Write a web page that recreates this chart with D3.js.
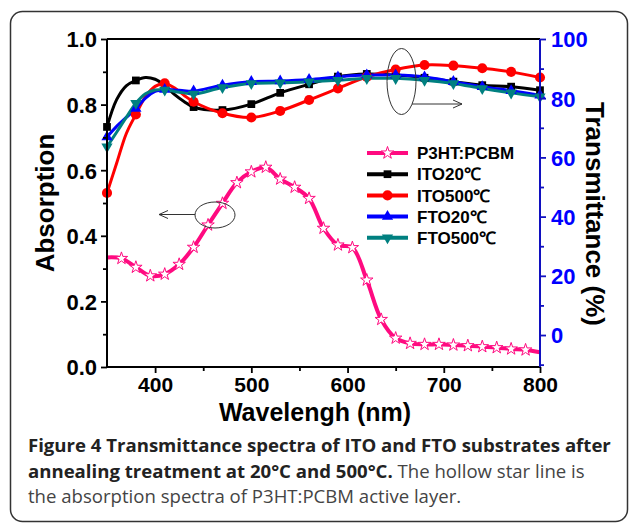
<!DOCTYPE html>
<html><head><meta charset="utf-8">
<script src="https://cdn.jsdelivr.net/npm/d3@7"></script>
<style>
html,body{margin:0;padding:0;background:#fff;}
svg{display:block;}
</style>
</head><body>
<svg id="c" width="629" height="523"></svg>
<script>
// ---- data ----
const lambdaT = [350,360,370,380,390,400,410,420,430,440,470,500,530,560,590,620,650,680,710,740,770,800];
const ito20   = [70.3,79.5,84.2,86.0,87.0,86.4,84.3,81.3,78.9,77.0,76.0,78.0,81.8,84.7,87.3,88.2,87.8,86.9,85.6,84.4,83.9,82.7];
const ito500  = [48.0,58.0,68.0,74.5,80.5,84.0,85.0,83.5,81.0,78.8,74.9,73.5,75.7,79.4,83.3,87.2,89.7,91.2,91.0,90.1,88.9,87.0];
const fto20   = [66.9,70.5,73.5,76.5,80.0,82.3,82.9,82.8,82.5,82.4,84.4,85.6,85.8,86.3,87.2,87.8,87.8,87.2,85.6,83.9,82.5,81.0];
const fto500  = [63.6,68.5,73.5,78.3,81.5,82.8,82.8,82.3,81.8,81.4,83.6,85.0,85.2,85.6,86.1,86.7,86.7,86.1,85.0,83.3,81.8,80.5];
const lambdaA = [350,365,380,395,410,425,440,455,470,485,500,515,530,545,560,575,590,605,620,635,650,665,680,695,710,725,740,755,770,785,800];
const p3ht    = [0.334,0.331,0.304,0.278,0.283,0.313,0.365,0.433,0.499,0.562,0.595,0.609,0.573,0.548,0.514,0.423,0.372,0.364,0.265,0.145,0.088,0.072,0.069,0.069,0.067,0.065,0.062,0.059,0.055,0.052,0.045];
const xTicks  = [400,500,600,700,800];
const xMinor  = [450,550,650,750];
const yLTicks = [0,0.2,0.4,0.6,0.8,1.0];
const yLMinor = [0.1,0.3,0.5,0.7,0.9];
const yRTicks = [0,20,40,60,80,100];
const yRMinor = [-10,10,30,50,70,90];
const legendNames = ["P3HT:PCBM","ITO20℃","ITO500℃","FTO20℃","FTO500℃"];

// ---- layout ----
const svg = d3.select("#c");
const L=107, R=540, T=39, B=367;
const x  = d3.scaleLinear([350,800],[L,R]);
const yL = d3.scaleLinear([0,1],[B,T]);
const yR = d3.scaleLinear([-10.8,100],[B,T]);
const FONT = "'Liberation Sans', Arial, sans-serif";

// outer rounded panel
svg.append("rect").attr("x",10.5).attr("y",11.5).attr("width",617).attr("height",510)
  .attr("rx",12).attr("fill","none").attr("stroke","#333").attr("stroke-width",1.5);

const series = [
  {name:legendNames[1], vals:ito20,  color:"#000000", sym:d3.symbolSquare,   size:60, rot:0},
  {name:legendNames[2], vals:ito500, color:"#ff0000", sym:d3.symbolCircle,   size:80, rot:0},
  {name:legendNames[3], vals:fto20,  color:"#0000ff", sym:d3.symbolTriangle, size:55, rot:0},
  {name:legendNames[4], vals:fto500, color:"#008080", sym:d3.symbolTriangle, size:55, rot:180},
];

const clip = svg.append("clipPath").attr("id","pc").append("rect")
  .attr("x",L-8).attr("y",T-8).attr("width",R-L+16).attr("height",B-T+16);
const plot = svg.append("g").attr("clip-path","url(#pc)");

const lineT = d3.line().x((d,i)=>x(lambdaT[i])).y(d=>yR(d)).curve(d3.curveCatmullRom.alpha(0.5));
series.forEach(s=>{
  plot.append("path").attr("d",lineT(s.vals)).attr("fill","none")
    .attr("stroke",s.color).attr("stroke-width",3);
});
series.forEach(s=>{
  const sym = d3.symbol().type(s.sym).size(s.size);
  plot.selectAll(null).data(s.vals.map((v,i)=>[lambdaT[i],v]).filter(d=>(d[0]-350)%30===0))
    .join("path").attr("d",sym)
    .attr("transform",d=>`translate(${x(d[0])},${yR(d[1])}) rotate(${s.rot})`)
    .attr("fill",s.color);
});

// P3HT absorption
const lineA = d3.line().x((d,i)=>x(lambdaA[i])).y(d=>yL(d)).curve(d3.curveCatmullRom.alpha(0.5));
plot.append("path").attr("d",lineA(p3ht)).attr("fill","none")
  .attr("stroke","#ff0a80").attr("stroke-width",4);
const star = d3.symbol().type(d3.symbolStar).size(48);
plot.selectAll(null).data(p3ht.map((v,i)=>[lambdaA[i],v]).filter(d=>d[0]>350&&d[0]<800))
  .join("path").attr("d",star)
  .attr("transform",d=>`translate(${x(d[0])},${yL(d[1])})`)
  .attr("fill","#fff").attr("stroke","#ff0a80").attr("stroke-width",1);

// ---- axes ----
function styleAxis(g,color,fs){
  g.select(".domain").remove();
  g.selectAll("line").attr("stroke",color).attr("stroke-width",1.8);
  g.selectAll("text").attr("fill",color).attr("font-family",FONT).attr("font-weight","bold").attr("font-size",fs);
}
// bottom
const gx = svg.append("g").attr("transform",`translate(0,${B})`)
  .call(d3.axisBottom(x).tickValues(xTicks).tickFormat(d3.format("d")).tickSize(6).tickPadding(4));
styleAxis(gx,"#000",21);
svg.append("g").attr("transform",`translate(0,${B})`)
  .call(d3.axisBottom(x).tickValues(xMinor).tickFormat("").tickSize(4)).call(g=>styleAxis(g,"#000",21));
// left
const gl = svg.append("g").attr("transform",`translate(${L},0)`)
  .call(d3.axisLeft(yL).tickValues(yLTicks).tickFormat(d3.format(".1f")).tickSize(6).tickPadding(4));
styleAxis(gl,"#000",22);
gl.selectAll("text").attr("dy","0.36em");
svg.append("g").attr("transform",`translate(${L},0)`)
  .call(d3.axisLeft(yL).tickValues(yLMinor).tickFormat("").tickSize(4)).call(g=>styleAxis(g,"#000",22));
// right
const gr = svg.append("g").attr("transform",`translate(${R},0)`)
  .call(d3.axisRight(yR).tickValues(yRTicks).tickFormat(d3.format("d")).tickSize(6).tickPadding(5));
styleAxis(gr,"#0000ff",22);
gr.selectAll("line").attr("stroke","#1010c0");
gr.selectAll("text").attr("dy","0.36em");
svg.append("g").attr("transform",`translate(${R},0)`)
  .call(d3.axisRight(yR).tickValues(yRMinor).tickFormat("").tickSize(4)).call(g=>styleAxis(g,"#1010c0",22));

// frame lines
svg.append("line").attr("x1",L).attr("x2",R).attr("y1",T).attr("y2",T).attr("stroke","#000").attr("stroke-width",2);
svg.append("line").attr("x1",L).attr("x2",R).attr("y1",B).attr("y2",B).attr("stroke","#000").attr("stroke-width",2);
svg.append("line").attr("x1",L).attr("x2",L).attr("y1",T).attr("y2",B).attr("stroke","#000").attr("stroke-width",2);
svg.append("line").attr("x1",R).attr("x2",R).attr("y1",T).attr("y2",B).attr("stroke","#1010c0").attr("stroke-width",2);

// axis titles
svg.append("text").attr("transform",`translate(45,${(T+B)/2}) rotate(-90)`)
  .attr("text-anchor","middle").attr("dy","0.35em")
  .attr("font-family",FONT).attr("font-weight","bold").attr("font-size",26).text("Absorption");
svg.append("text").attr("transform",`translate(595,${(T+B)/2+11}) rotate(90)`)
  .attr("text-anchor","middle").attr("dy","0.35em")
  .attr("font-family",FONT).attr("font-weight","bold").attr("font-size",26).text("Transmittance (%)");
svg.append("text").attr("x",315).attr("y",421).attr("text-anchor","middle")
  .attr("font-family",FONT).attr("font-weight","bold").attr("font-size",25).text("Wavelengh (nm)");

// ---- legend ----
const legItems = [
  {name:legendNames[0], color:"#ff0a80", sym:d3.symbolStar, size:48, rot:0, hollow:true},
  ...series
];
const lg = svg.append("g");
legItems.forEach((s,i)=>{
  const cy = 153 + i*21.2;
  lg.append("line").attr("x1",367).attr("x2",408).attr("y1",cy).attr("y2",cy)
    .attr("stroke",s.color).attr("stroke-width",4);
  lg.append("path").attr("d",d3.symbol().type(s.sym).size(s.size))
    .attr("transform",`translate(387.5,${cy}) rotate(${s.rot||0})`)
    .attr("fill",s.hollow?"#fff":s.color).attr("stroke",s.hollow?s.color:"none").attr("stroke-width",1);
  lg.append("text").attr("x",417).attr("y",cy).attr("dy","0.36em")
    .attr("font-family",FONT).attr("font-weight","bold").attr("font-size",17).text(s.name);
});

// ---- annotations (ellipses + arrows) ----
const defs = svg.append("defs");
defs.append("marker").attr("id","ah").attr("viewBox","0 0 10 10").attr("refX",9).attr("refY",5)
  .attr("markerWidth",10).attr("markerHeight",10).attr("markerUnits","userSpaceOnUse").attr("orient","auto")
  .append("path").attr("d","M0,1 L9,5 L0,9").attr("fill","none").attr("stroke","#333").attr("stroke-width",1);
svg.append("ellipse").attr("cx",401.5).attr("cy",81.5).attr("rx",14.5).attr("ry",33)
  .attr("fill","none").attr("stroke","#333").attr("stroke-width",1);
svg.append("line").attr("x1",412).attr("y1",104).attr("x2",462).attr("y2",104)
  .attr("stroke","#333").attr("stroke-width",1).attr("marker-end","url(#ah)");
svg.append("ellipse").attr("cx",215).attr("cy",215).attr("rx",20).attr("ry",13)
  .attr("fill","none").attr("stroke","#333").attr("stroke-width",1);
svg.append("line").attr("x1",195).attr("y1",214.5).attr("x2",159).attr("y2",214.5)
  .attr("stroke","#333").attr("stroke-width",1).attr("marker-end","url(#ah)");

// ---- caption ----
const CF = "'Open Sans', 'Noto Sans', sans-serif";
const cap = svg.append("g").attr("font-family",CF);
const l1 = cap.append("text").attr("x",28).attr("y",452).attr("font-weight","bold").attr("fill","#222")
  .attr("font-size",17).text("Figure 4 Transmittance spectra of ITO and FTO substrates after");
// fit caption size to the measured line width
const w = l1.node().getComputedTextLength();
const fs = 17*583/w;
l1.attr("font-size",fs);
const l2 = cap.append("text").attr("x",28).attr("y",478).attr("font-size",fs);
l2.append("tspan").attr("font-weight","bold").attr("fill","#222").text("annealing treatment at 20°C and 500°C.");
l2.append("tspan").attr("fill","#444").text(" The hollow star line is");
cap.append("text").attr("x",28).attr("y",503).attr("font-size",fs).attr("fill","#444")
  .text("the absorption spectra of P3HT:PCBM active layer.");
</script>
</body></html>
